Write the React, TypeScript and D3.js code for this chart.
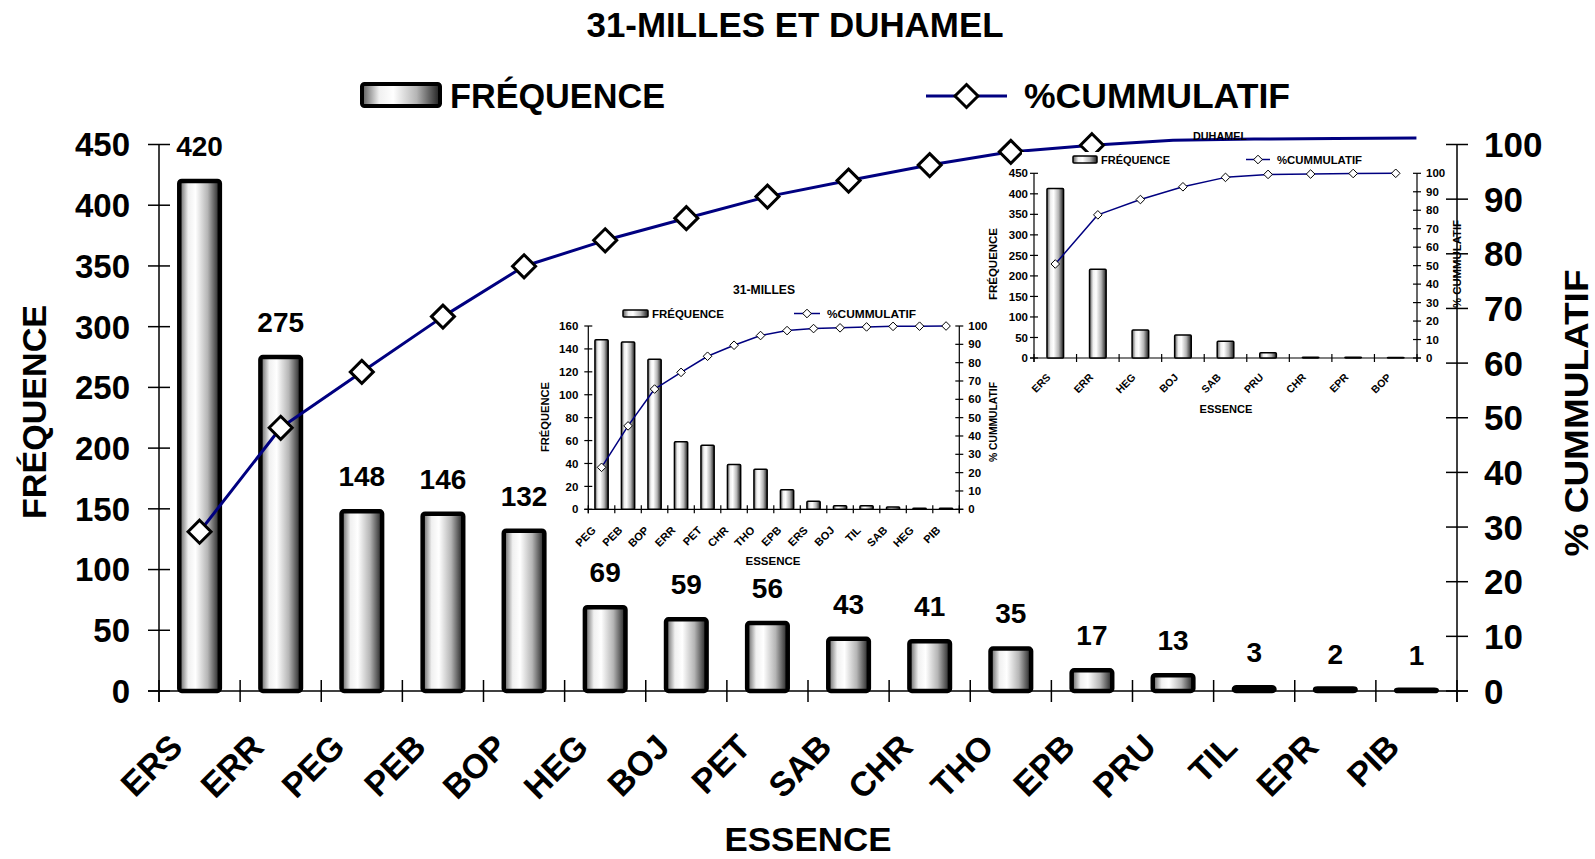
import React from 'react';
import * as d3 from 'd3';

// ---------------- DATA ----------------
const mainCategories = ['ERS', 'ERR', 'PEG', 'PEB', 'BOP', 'HEG', 'BOJ', 'PET', 'SAB', 'CHR', 'THO', 'EPB', 'PRU', 'TIL', 'EPR', 'PIB'];
const mainFreq = [420, 275, 148, 146, 132, 69, 59, 56, 43, 41, 35, 17, 13, 3, 2, 1];
const mainCumPct = [28.8, 47.6, 57.7, 67.7, 76.8, 81.5, 85.5, 89.4, 92.3, 95.1, 97.5, 98.7, 99.6, 99.8, 99.9, 100];
const mainMarkerCount = 12;
const mainFreqTicks = [0, 50, 100, 150, 200, 250, 300, 350, 400, 450];
const pctTicks = [0, 10, 20, 30, 40, 50, 60, 70, 80, 90, 100];

const millesCategories = ['PEG', 'PEB', 'BOP', 'ERR', 'PET', 'CHR', 'THO', 'EPB', 'ERS', 'BOJ', 'TIL', 'SAB', 'HEG', 'PIB'];
const millesFreq = [148, 146, 131, 59, 56, 39, 35, 17, 7, 3, 3, 2, 1, 1];
const millesCumPct = [22.9, 45.5, 65.6, 74.7, 83.5, 89.5, 94.8, 97.5, 98.6, 99.0, 99.5, 99.8, 99.9, 100];
const millesFreqTicks = [0, 20, 40, 60, 80, 100, 120, 140, 160];

const duhamelCategories = ['ERS', 'ERR', 'HEG', 'BOJ', 'SAB', 'PRU', 'CHR', 'EPR', 'BOP'];
const duhamelFreq = [413, 216, 68, 56, 41, 13, 2, 2, 1];
const duhamelCumPct = [50.9, 77.5, 85.8, 92.7, 97.8, 99.4, 99.6, 99.9, 100];
const duhamelFreqTicks = [0, 50, 100, 150, 200, 250, 300, 350, 400, 450];

const FONT = '"Liberation Sans", Arial, Helvetica, sans-serif';
const NAVY = '#000080';

type Cfg = {
  categories: string[];
  freq: number[];
  pct: number[];
  markerCount: number;
  freqTicks: number[];
  freqMax: number;
  left: number; right: number; top: number; bottom: number; lineTop: number;
  barFrac: number; barStroke: number; barRx: number;
  lineWidth: number; markerR: number; markerStroke: number;
  tickLen: number; axisStroke: number;
  tickFont: number; rightTickFont: number; leftLabelGap: number; rightLabelGap: number;
  catFont: number; catDx: number; catY: number;
  dataLabels: boolean; dataFont: number; dataGap: number;
  title?: { text: string; x: number; y: number; font: number; len?: number };
  legend: { boxX: number; boxY: number; boxW: number; boxH: number; boxStroke: number; t1X: number; t2X: number; baseline: number; font: number; lineX1: number; lineX2: number; lineY: number; len1?: number; len2?: number };
  yTitle: { x: number; y: number; font: number; len?: number };
  y2Title: { x: number; y: number; font: number; len?: number };
  xTitle: { x: number; y: number; font: number; len?: number };
  bg?: { x: number; y: number; w: number; h: number };
};

const diamond = (cx: number, cy: number, r: number) => `M${cx},${cy - r}L${cx + r},${cy}L${cx},${cy + r}L${cx - r},${cy}Z`;

function Pareto({ cfg, gid }: { cfg: Cfg; gid: string }) {
  const x = d3.scaleBand<string>().domain(cfg.categories).range([cfg.left, cfg.right]).padding(0);
  const y = d3.scaleLinear().domain([0, cfg.freqMax]).range([cfg.bottom, cfg.top]);
  const yPctAxis = d3.scaleLinear().domain([0, 100]).range([cfg.bottom, cfg.top]);
  const yPctLine = d3.scaleLinear().domain([0, 100]).range([cfg.bottom, cfg.lineTop]);
  const bw = x.bandwidth();
  const barW = bw * cfg.barFrac;
  const cx = (c: string) => (x(c) as number) + bw / 2;
  const linePath = d3
    .line<number>()
    .x((_, i) => cx(cfg.categories[i]))
    .y((d) => yPctLine(d))(cfg.pct) as string;
  const boundaries = d3.range(cfg.categories.length + 1).map((i) => cfg.left + i * bw);
  const lg = cfg.legend;
  return (
    <g fontFamily={FONT} fontWeight="bold">
      {cfg.bg && <rect x={cfg.bg.x} y={cfg.bg.y} width={cfg.bg.w} height={cfg.bg.h} fill="#fff" />}
      {cfg.title && (
        <text x={cfg.title.x} y={cfg.title.y} fontSize={cfg.title.font} textAnchor="middle"
          textLength={cfg.title.len} lengthAdjust="spacingAndGlyphs">{cfg.title.text}</text>
      )}
      {/* legend */}
      <rect x={lg.boxX} y={lg.boxY} width={lg.boxW} height={lg.boxH} fill={`url(#${gid})`} stroke="#000" strokeWidth={lg.boxStroke} rx={cfg.barRx} />
      <text x={lg.t1X} y={lg.baseline} fontSize={lg.font} textLength={lg.len1} lengthAdjust="spacingAndGlyphs">FRÉQUENCE</text>
      <line x1={lg.lineX1} x2={lg.lineX2} y1={lg.lineY} y2={lg.lineY} stroke={NAVY} strokeWidth={cfg.lineWidth} />
      <path d={diamond((lg.lineX1 + lg.lineX2) / 2, lg.lineY, cfg.markerR)} fill="#fff" stroke="#000" strokeWidth={cfg.markerStroke} />
      <text x={lg.t2X} y={lg.baseline} fontSize={lg.font} textLength={lg.len2} lengthAdjust="spacingAndGlyphs">%CUMMULATIF</text>

      {/* left axis */}
      <line x1={cfg.left} x2={cfg.left} y1={cfg.top} y2={cfg.bottom + cfg.tickLen} stroke="#000" strokeWidth={cfg.axisStroke} />
      {cfg.freqTicks.map((t) => (
        <g key={'lt' + t}>
          <line x1={cfg.left - cfg.tickLen} x2={cfg.left + cfg.tickLen} y1={y(t)} y2={y(t)} stroke="#000" strokeWidth={cfg.axisStroke} />
          <text x={cfg.left - cfg.leftLabelGap} y={y(t)} dy="0.36em" fontSize={cfg.tickFont} textAnchor="end">{t}</text>
        </g>
      ))}
      {/* right axis */}
      <line x1={cfg.right} x2={cfg.right} y1={cfg.top} y2={cfg.bottom + cfg.tickLen} stroke="#000" strokeWidth={cfg.axisStroke} />
      {pctTicks.map((t) => (
        <g key={'rt' + t}>
          <line x1={cfg.right - cfg.tickLen} x2={cfg.right + cfg.tickLen} y1={yPctAxis(t)} y2={yPctAxis(t)} stroke="#000" strokeWidth={cfg.axisStroke} />
          <text x={cfg.right + cfg.rightLabelGap} y={yPctAxis(t)} dy="0.36em" fontSize={cfg.rightTickFont}>{t}</text>
        </g>
      ))}
      {/* bottom axis */}
      <line x1={cfg.left - cfg.tickLen} x2={cfg.right + cfg.tickLen} y1={cfg.bottom} y2={cfg.bottom} stroke="#000" strokeWidth={cfg.axisStroke} />
      {boundaries.map((b, i) => (
        <line key={'bt' + i} x1={b} x2={b} y1={cfg.bottom - cfg.tickLen} y2={cfg.bottom + cfg.tickLen} stroke="#000" strokeWidth={cfg.axisStroke} />
      ))}
      {/* bars */}
      {cfg.categories.map((c, i) => (
        <rect key={'b' + c} x={cx(c) - barW / 2} y={y(cfg.freq[i])} width={barW} height={cfg.bottom - y(cfg.freq[i])}
          fill={`url(#${gid})`} stroke="#000" strokeWidth={cfg.barStroke} rx={cfg.barRx} />
      ))}
      {cfg.dataLabels && cfg.categories.map((c, i) => (
        <text key={'dl' + c} x={cx(c)} y={y(cfg.freq[i]) - cfg.dataGap} fontSize={cfg.dataFont} textAnchor="middle">{cfg.freq[i]}</text>
      ))}
      {/* category labels */}
      {cfg.categories.map((c) => (
        <text key={'cl' + c} transform={`translate(${cx(c) + cfg.catDx},${cfg.catY}) rotate(-45)`} fontSize={cfg.catFont} textAnchor="end">{c}</text>
      ))}
      {/* cumulative line */}
      <path d={linePath} fill="none" stroke={NAVY} strokeWidth={cfg.lineWidth} strokeLinejoin="round" />
      {cfg.pct.slice(0, cfg.markerCount).map((p, i) => (
        <path key={'m' + i} d={diamond(cx(cfg.categories[i]), yPctLine(p), cfg.markerR)} fill="#fff" stroke="#000" strokeWidth={cfg.markerStroke} />
      ))}
      {/* axis titles */}
      <text transform={`translate(${cfg.yTitle.x},${cfg.yTitle.y}) rotate(-90)`} fontSize={cfg.yTitle.font} textAnchor="middle"
        textLength={cfg.yTitle.len} lengthAdjust="spacingAndGlyphs">FRÉQUENCE</text>
      <text transform={`translate(${cfg.y2Title.x},${cfg.y2Title.y}) rotate(-90)`} fontSize={cfg.y2Title.font} textAnchor="middle"
        textLength={cfg.y2Title.len} lengthAdjust="spacingAndGlyphs">% CUMMULATIF</text>
      <text x={cfg.xTitle.x} y={cfg.xTitle.y} fontSize={cfg.xTitle.font} textAnchor="middle"
        textLength={cfg.xTitle.len} lengthAdjust="spacingAndGlyphs">ESSENCE</text>
    </g>
  );
}

const mainCfg: Cfg = {
  categories: mainCategories, freq: mainFreq, pct: mainCumPct, markerCount: mainMarkerCount,
  freqTicks: mainFreqTicks, freqMax: 450,
  left: 159, right: 1457, top: 144.5, bottom: 691, lineTop: 138,
  barFrac: 0.5, barStroke: 4.5, barRx: 2.5,
  lineWidth: 3, markerR: 11.5, markerStroke: 3,
  tickLen: 11, axisStroke: 1.5,
  tickFont: 33, rightTickFont: 35, leftLabelGap: 29, rightLabelGap: 27,
  catFont: 34, catDx: -15, catY: 749,
  dataLabels: true, dataFont: 28, dataGap: 25,
  title: { text: '31-MILLES ET DUHAMEL', x: 795, y: 37, font: 35, len: 417 },
  legend: { boxX: 362, boxY: 84, boxW: 78, boxH: 22, boxStroke: 4, t1X: 450, t2X: 1024, baseline: 108, font: 35, lineX1: 926, lineX2: 1007, lineY: 96, len1: 215, len2: 266 },
  yTitle: { x: 46, y: 412, font: 34, len: 214 },
  y2Title: { x: 1588, y: 413, font: 34, len: 287 },
  xTitle: { x: 808, y: 851, font: 34, len: 167 },
};

const millesCfg: Cfg = {
  categories: millesCategories, freq: millesFreq, pct: millesCumPct, markerCount: millesCategories.length,
  freqTicks: millesFreqTicks, freqMax: 160,
  left: 588.3, right: 959.3, top: 326, bottom: 509.3, lineTop: 326,
  barFrac: 0.5, barStroke: 1.5, barRx: 1,
  lineWidth: 1.5, markerR: 4.3, markerStroke: 1,
  tickLen: 4, axisStroke: 1.2,
  tickFont: 11.5, rightTickFont: 11.5, leftLabelGap: 10, rightLabelGap: 9,
  catFont: 11, catDx: -5, catY: 531,
  dataLabels: false, dataFont: 0, dataGap: 0,
  title: { text: '31-MILLES', x: 764, y: 294, font: 12, len: 62 },
  legend: { boxX: 623, boxY: 310, boxW: 25, boxH: 7, boxStroke: 1.5, t1X: 652, t2X: 827, baseline: 317.5, font: 11.5, lineX1: 794, lineX2: 820, lineY: 313.5, len1: 72, len2: 89 },
  yTitle: { x: 549, y: 417, font: 11, len: 70 },
  y2Title: { x: 997, y: 422, font: 11, len: 80 },
  xTitle: { x: 773, y: 565, font: 11.5, len: 55 },
};

const duhamelCfg: Cfg = {
  categories: duhamelCategories, freq: duhamelFreq, pct: duhamelCumPct, markerCount: duhamelCategories.length,
  freqTicks: duhamelFreqTicks, freqMax: 450,
  left: 1034, right: 1417, top: 173.3, bottom: 358, lineTop: 173.3,
  barFrac: 0.39, barStroke: 1.5, barRx: 1,
  lineWidth: 1.5, markerR: 4.3, markerStroke: 1,
  tickLen: 4, axisStroke: 1.2,
  tickFont: 11.5, rightTickFont: 11.5, leftLabelGap: 6, rightLabelGap: 9,
  catFont: 10.5, catDx: -4, catY: 378,
  dataLabels: false, dataFont: 0, dataGap: 0,
  title: { text: 'DUHAMEL', x: 1220, y: 140, font: 11, len: 54 },
  legend: { boxX: 1073, boxY: 156, boxW: 24, boxH: 7, boxStroke: 1.5, t1X: 1101, t2X: 1277, baseline: 164, font: 11.5, lineX1: 1246, lineX2: 1270, lineY: 159.5, len1: 69, len2: 85 },
  yTitle: { x: 997, y: 264, font: 11, len: 72 },
  y2Title: { x: 1461, y: 264, font: 11, len: 88 },
  xTitle: { x: 1226, y: 413, font: 11.5, len: 53 },
  bg: { x: 1022, y: 152, w: 423, h: 268 },
};

function Grad({ id }: { id: string }) {
  return (
    <linearGradient id={id} x1="0" x2="1" y1="0" y2="0">
      <stop offset="0" stopColor="#5a5a5a" />
      <stop offset="0.22" stopColor="#f0f0f0" />
      <stop offset="0.4" stopColor="#ffffff" />
      <stop offset="0.7" stopColor="#b5b5b5" />
      <stop offset="1" stopColor="#1e1e1e" />
    </linearGradient>
  );
}

export default function App() {
  return (
    <svg width={1595} height={859} style={{ position: 'absolute', left: 0, top: 0, background: '#fff' }}>
      <defs>
        <Grad id="barGrad" />
      </defs>
      <rect x={0} y={0} width={1595} height={859} fill="#fff" />
      <Pareto cfg={mainCfg} gid="barGrad" />
      <Pareto cfg={millesCfg} gid="barGrad" />
      <Pareto cfg={duhamelCfg} gid="barGrad" />
    </svg>
  );
}
